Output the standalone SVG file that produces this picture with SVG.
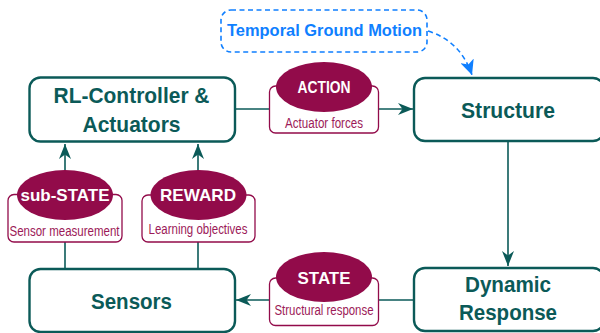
<svg xmlns="http://www.w3.org/2000/svg" width="600" height="333" viewBox="0 0 600 333">
<style>
text{font-family:"Liberation Sans",Arial,sans-serif;text-anchor:middle}
.box{fill:#fff;stroke:#0b5a58;stroke-width:2.4}
.t{font-size:21.500px;font-weight:700;fill:#0b5a58}
.c{fill:none;stroke:#0b5a58;stroke-width:1.6}
.tag{fill:#fff;stroke:#920b4a;stroke-width:1.3}
.e{fill:#920b4a}
.et{font-size:17px;font-weight:700;fill:#fff}
.s{font-size:14px;fill:#9c1a58}
</style>
<defs>
<marker id="a" viewBox="0 0 16 12" refX="15" refY="6" markerWidth="16" markerHeight="12" markerUnits="userSpaceOnUse" orient="auto"><path d="M0 0L15 6L0 12L4.500 6Z" fill="#0b5a58"/></marker>
<marker id="b" viewBox="0 0 16 14" refX="15" refY="7" markerWidth="16" markerHeight="14" markerUnits="userSpaceOnUse" orient="auto"><path d="M0 0L15 7L0 14L4 7Z" fill="#0f7fff"/></marker>
</defs>
<g id="connectors">
<path class="c" d="M235 109H413" marker-end="url(#a)"/>
<path class="c" d="M508 142V266" marker-end="url(#a)"/>
<path class="c" d="M413 300H236" marker-end="url(#a)"/>
<path class="c" d="M65 268V144" marker-end="url(#a)"/>
<path class="c" d="M198 268V144" marker-end="url(#a)"/>
<path d="M428 31C450 38 464 52 472 75" fill="none" stroke="#0f7fff" stroke-width="1.6" stroke-dasharray="5 3.500" marker-end="url(#b)"/>
</g>
<g id="ground-motion">
<rect x="221" y="10" width="206" height="42" rx="10" fill="#fff" stroke="#0f7fff" stroke-width="1.6" stroke-dasharray="5 3.500"/>
<text x="324.500" y="36" font-size="17" font-weight="700" fill="#0f7fff" textLength="195" lengthAdjust="spacingAndGlyphs">Temporal Ground Motion</text>
</g>
<g id="controller">
<rect class="box" x="29.500" y="77.500" width="205.500" height="64" rx="11"/>
<text class="t" x="131.500" y="103" textLength="156" lengthAdjust="spacingAndGlyphs">RL-Controller &amp;</text>
<text class="t" x="131.500" y="132" textLength="98" lengthAdjust="spacingAndGlyphs">Actuators</text>
</g>
<g id="structure">
<rect class="box" x="414" y="78" width="190" height="63" rx="11"/>
<text class="t" x="508" y="118" textLength="94" lengthAdjust="spacingAndGlyphs">Structure</text>
</g>
<g id="dynamic-response">
<rect class="box" x="414" y="268" width="190" height="63" rx="11"/>
<text class="t" x="508" y="292" textLength="86" lengthAdjust="spacingAndGlyphs">Dynamic</text>
<text class="t" x="508" y="320" textLength="98" lengthAdjust="spacingAndGlyphs">Response</text>
</g>
<g id="sensors">
<rect class="box" x="29.500" y="269" width="205.500" height="63" rx="11"/>
<text class="t" x="131.500" y="309" textLength="81" lengthAdjust="spacingAndGlyphs">Sensors</text>
</g>
<g id="action">
<rect class="tag" x="269.500" y="86" width="109" height="47" rx="6"/>
<ellipse class="e" cx="324" cy="87" rx="48" ry="25"/>
<text class="et" x="324" y="93" textLength="53" lengthAdjust="spacingAndGlyphs">ACTION</text>
<text class="s" x="324" y="128" textLength="78" lengthAdjust="spacingAndGlyphs">Actuator forces</text>
</g>
<g id="state">
<rect class="tag" x="269.500" y="278" width="109" height="47.500" rx="6"/>
<ellipse class="e" cx="324" cy="277" rx="48" ry="25"/>
<text class="et" x="324" y="284" textLength="53" lengthAdjust="spacingAndGlyphs">STATE</text>
<text class="s" x="324" y="315" textLength="99" lengthAdjust="spacingAndGlyphs">Structural response</text>
</g>
<g id="sub-state">
<rect class="tag" x="8" y="194.500" width="114" height="47.500" rx="6"/>
<ellipse class="e" cx="65" cy="195" rx="48" ry="25"/>
<text class="et" x="65" y="201" textLength="89" lengthAdjust="spacingAndGlyphs">sub-STATE</text>
<text class="s" x="64.500" y="236" textLength="110" lengthAdjust="spacingAndGlyphs">Sensor measurement</text>
</g>
<g id="reward">
<rect class="tag" x="142" y="195" width="113" height="47" rx="6"/>
<ellipse class="e" cx="198.500" cy="195" rx="48" ry="25"/>
<text class="et" x="198" y="201" textLength="76" lengthAdjust="spacingAndGlyphs">REWARD</text>
<text class="s" x="198" y="234" textLength="99" lengthAdjust="spacingAndGlyphs">Learning objectives</text>
</g>
</svg>
